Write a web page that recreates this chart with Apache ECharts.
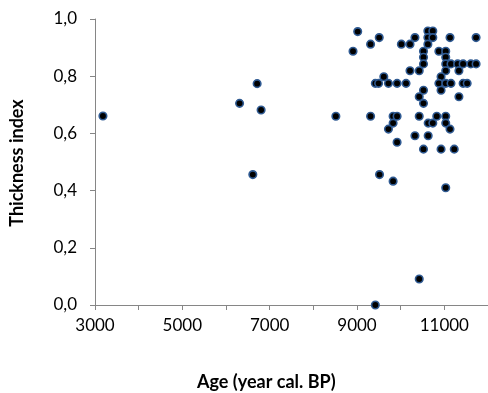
<!DOCTYPE html>
<html>
<head>
<meta charset="utf-8">
<script src="https://cdn.jsdelivr.net/npm/echarts@6/dist/echarts.min.js"></script>
<style>
  html, body { margin: 0; padding: 0; background: #fff; }
  #chart { width: 488px; height: 393px; }
</style>
</head>
<body>
<div id="chart"></div>
<script>
// ages (year cal. BP) and thickness index
var ages = [
    3182, 6311, 6713, 6804, 6614, 8516, 9420, 10425,
    9016, 9509, 9311, 8909, 10016, 10214, 10327, 10623, 10736, 10623, 10736, 10623,
    10523, 10523, 10523, 11130, 11727, 10875, 11032, 11032, 11032, 11152,
    11305, 11430, 11607, 11727, 10214, 10425, 11032, 11334, 9614, 9420,
    9495, 9720, 9918, 10123, 10925, 10875, 11032, 11152, 11430, 11523,
    10925, 10523, 10425, 10523, 11334, 9311, 9827, 9918, 9827, 9720,
    10425, 10630, 10736, 10827, 11032, 11032, 11130, 9918, 10327, 10630,
    10523, 10925, 11227, 9516, 9827, 11032
];
var thickness = [
    0.661, 0.705, 0.774, 0.682, 0.456, 0.660, 0.000, 0.091,
    0.956, 0.935, 0.912, 0.887, 0.912, 0.912, 0.935, 0.958, 0.958, 0.935, 0.935, 0.912,
    0.887, 0.866, 0.843, 0.935, 0.935, 0.887, 0.887, 0.866, 0.843, 0.843,
    0.843, 0.843, 0.843, 0.843, 0.819, 0.819, 0.819, 0.819, 0.798, 0.775,
    0.775, 0.775, 0.775, 0.775, 0.798, 0.775, 0.775, 0.775, 0.775, 0.775,
    0.751, 0.751, 0.728, 0.705, 0.728, 0.660, 0.660, 0.660, 0.636, 0.615,
    0.660, 0.636, 0.636, 0.660, 0.660, 0.636, 0.615, 0.569, 0.592, 0.592,
    0.545, 0.545, 0.545, 0.456, 0.433, 0.410
];
var xTitle = 'Age (year cal. BP)';
var yTitle = 'Thickness index';

var points = [];
for (var i = 0; i < ages.length; i++) {
    points.push([ages[i], thickness[i]]);
}

var myChart = echarts.init(document.getElementById('chart'));
var font = 'Lato, "Liberation Sans", sans-serif';
var axisGrey = '#868686';

var option = {
    animation: false,
    //画布位置
    grid: {
        left: 95,
        top: 19,
        width: 396,
        height: 286
    },
    xAxis: {
        type: 'value',
        min: 3000,
        max: 12000,
        interval: 1000,
        splitLine: { show: false },
        axisLine: { lineStyle: { color: axisGrey, width: 1 } },
        axisTick: { show: true, length: 5, lineStyle: { color: axisGrey } },
        axisLabel: {
            margin: 12,
            color: '#000',
            fontFamily: font,
            fontSize: 17,
            showMaxLabel: false,
            formatter: function (v) {
                return (v - 3000) % 2000 === 0 ? String(v) : '';
            }
        }
    },
    yAxis: {
        type: 'value',
        min: 0,
        max: 1,
        interval: 0.2,
        splitLine: { show: false },
        axisLine: { show: true, lineStyle: { color: axisGrey, width: 1 } },
        axisTick: { show: true, length: 5, lineStyle: { color: axisGrey } },
        axisLabel: {
            margin: 18,
            color: '#000',
            fontFamily: font,
            fontSize: 17,
            formatter: function (v) {
                return v.toFixed(1).replace('.', ',');
            }
        }
    },
    graphic: [
        {
            type: 'text',
            left: 272 - 75,
            top: 373,
            style: {
                text: xTitle,
                font: 'bold 18px ' + font,
                fill: '#000',
                width: 150,
                align: 'center'
            }
        },
        {
            type: 'text',
            x: 17,
            y: 163,
            rotation: Math.PI / 2,
            style: {
                text: yTitle,
                font: 'bold 18px ' + font,
                fill: '#000',
                align: 'center',
                verticalAlign: 'middle'
            },
            originX: 0,
            originY: 0
        }
    ],
    series: [
        {
            type: 'scatter',
            data: points,
            symbol: 'circle',
            symbolSize: 7.5,
            itemStyle: {
                color: '#000',
                borderColor: '#2F5A92',
                borderWidth: 1.6,
                opacity: 1
            }
        }
    ]
};
myChart.setOption(option);
</script>
</body>
</html>
